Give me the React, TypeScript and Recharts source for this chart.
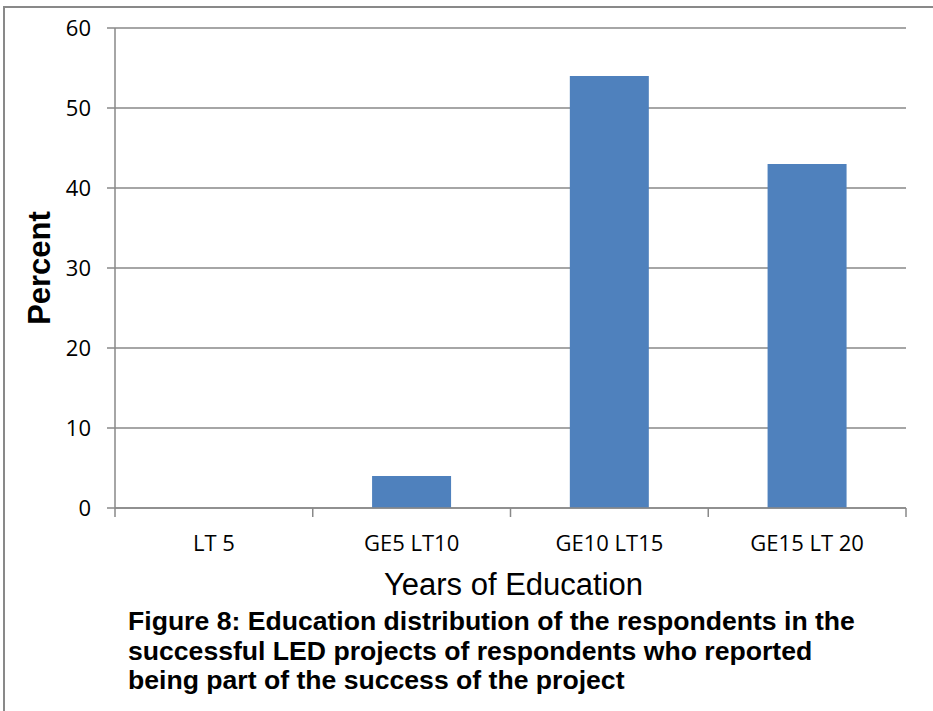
import React from 'react';
import { BarChart, Bar, XAxis, YAxis, CartesianGrid } from 'recharts';

const categories = ['LT 5', 'GE5 LT10', 'GE10 LT15', 'GE15 LT 20'];
const percentValues = [0, 4, 54, 43];
const yTicks = [0, 10, 20, 30, 40, 50, 60];
const xAxisTitle = 'Years of Education';
const yAxisTitle = 'Percent';
const captionLines = [
  'Figure 8: Education distribution of the respondents in the',
  'successful LED projects of respondents who reported',
  'being part of the success of the project',
];

const data = categories.map((name, i) => ({ name, value: percentValues[i] }));

const GRAY = '#898989';
const TICK_FONT = '"Open Sans", sans-serif';

const XTick = (props: any) => {
  const { x, y, payload, index, visibleTicksCount } = props;
  const off = payload && payload.offset ? payload.offset : 0;
  const isLast = index === visibleTicksCount - 1;
  return (
    <g>
      <line x1={x - off} x2={x - off} y1={y} y2={y + 9} stroke={GRAY} strokeWidth={1.5} />
      {isLast && <line x1={x + off} x2={x + off} y1={y} y2={y + 9} stroke={GRAY} strokeWidth={1.5} />}
      <text x={x} y={y + 43} textAnchor="middle" fontFamily={TICK_FONT} fontSize={22} fill="#000">
        {payload.value}
      </text>
    </g>
  );
};

const YTitle = (props: any) => {
  const vb = props.viewBox || {};
  const cx = 50;
  const cy = vb.y + vb.height / 2;
  return (
    <text
      x={cx}
      y={cy}
      transform={`rotate(-90, ${cx}, ${cy})`}
      textAnchor="middle"
      fontFamily='"Liberation Sans", Arial, sans-serif'
      fontWeight="bold"
      fontSize={31}
      fill="#000"
    >
      {yAxisTitle}
    </text>
  );
};

const XTitle = (props: any) => {
  const vb = props.viewBox || {};
  const cx = vb.x + vb.width / 2 + 3;
  return (
    <text
      x={cx}
      y={vb.y + 87}
      textAnchor="middle"
      fontFamily='"Liberation Sans", Arial, sans-serif'
      fontSize={31}
      fill="#000"
    >
      {xAxisTitle}
    </text>
  );
};

export default function App() {
  return (
    <div style={{ position: 'absolute', left: 0, top: 0, width: 933, height: 711, background: '#fff', overflow: 'hidden' }}>
      <div style={{ position: 'absolute', left: 3, top: 6, width: 2, height: 705, background: GRAY }} />
      <div style={{ position: 'absolute', left: 3, top: 6, width: 930, height: 2, background: GRAY }} />
      <div style={{ position: 'absolute', left: 0, top: 0 }}>
        <BarChart
          width={933}
          height={711}
          data={data}
          margin={{ top: 28, right: 27, bottom: 113, left: 0 }}
          barCategoryGap="30%"
        >
          <CartesianGrid vertical={false} stroke={GRAY} strokeWidth={1.5} />
          <XAxis
            dataKey="name"
            type="category"
            height={90}
            tickLine={false}
            tickSize={0}
            tickMargin={0}
            axisLine={{ stroke: GRAY, strokeWidth: 1.5 }}
            tick={(p: any) => <XTick {...p} />}
            interval={0}
            label={(p: any) => <XTitle {...p} />}
          />
          <YAxis
            width={115}
            domain={[0, 60]}
            ticks={yTicks}
            interval={0}
            tickSize={8}
            tickMargin={16}
            tickLine={{ stroke: GRAY, strokeWidth: 1.5 }}
            axisLine={{ stroke: GRAY, strokeWidth: 1.5 }}
            tick={{ fill: '#000', fontFamily: TICK_FONT, fontSize: 22 }}
            label={(p: any) => <YTitle {...p} />}
          />
          <Bar dataKey="value" fill="#4F81BD" isAnimationActive={false} />
        </BarChart>
      </div>
      <div
        style={{
          position: 'absolute',
          left: 128,
          top: 607,
          fontFamily: '"Liberation Sans", Arial, sans-serif',
          fontWeight: 'bold',
          fontSize: 26.6,
          lineHeight: '29.5px',
          color: '#000',
          whiteSpace: 'nowrap',
        }}
      >
        {captionLines.map((l, i) => (
          <div key={i}>{l}</div>
        ))}
      </div>
    </div>
  );
}
